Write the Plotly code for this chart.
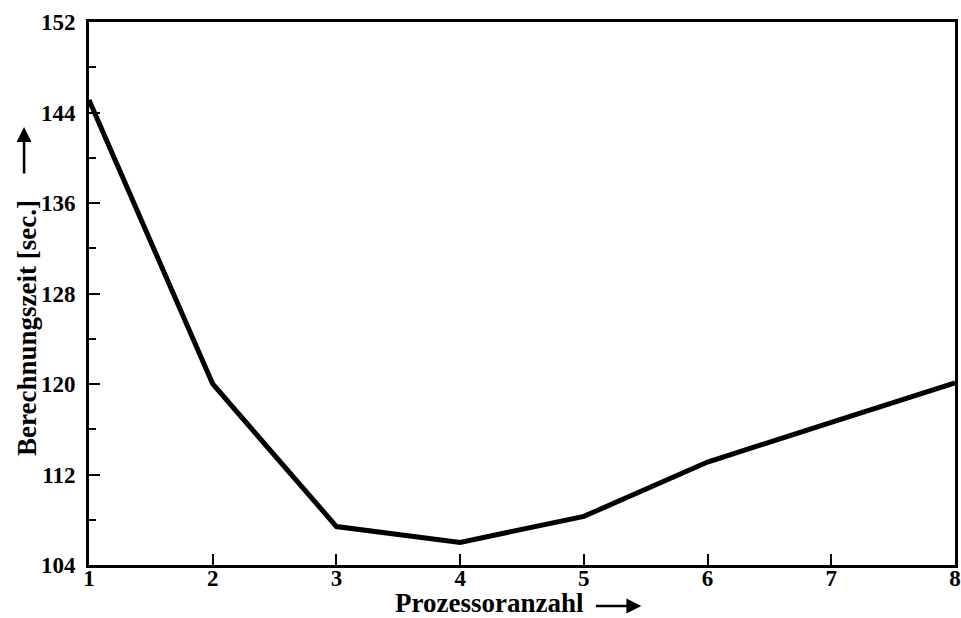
import plotly.graph_objects as go

processors = [1, 2, 3, 4, 5, 6, 7, 8]
times = [145.1, 120.0, 107.4, 106.0, 108.3, 113.1, 116.6, 120.1]
y_ticks = [104, 112, 120, 128, 136, 144, 152]
x_ticks = [1, 2, 3, 4, 5, 6, 7, 8]

FONT = "Liberation Serif"

fig = go.Figure()
fig.add_trace(go.Scatter(x=processors, y=times, mode="lines",
                         line=dict(color="black", width=5), cliponaxis=False,
                         showlegend=False))

fig.update_layout(
    width=961, height=618,
    margin=dict(l=89, r=6, t=22, b=53),
    paper_bgcolor="white", plot_bgcolor="white",
    font=dict(family=FONT, size=23, color="black"),
    xaxis=dict(range=[1, 8], tickvals=x_ticks, ticktext=[f"<b>{v}</b>" for v in x_ticks],
               ticks="inside", ticklen=11, tickwidth=2, tickcolor="black",
               showline=True, linecolor="black", linewidth=3, mirror=True,
               showgrid=False, zeroline=False, ticklabelstandoff=-10, automargin=False),
    yaxis=dict(range=[104, 152], tickvals=y_ticks, ticktext=[f"<b>{v}</b>" for v in y_ticks],
               ticks="inside", ticklen=11, tickwidth=2, tickcolor="black",
               minor=dict(dtick=4, tick0=104, ticks="inside", ticklen=7, tickwidth=2, tickcolor="black", showgrid=False),
               showline=True, linecolor="black", linewidth=3, mirror=True,
               showgrid=False, zeroline=False, ticklabelstandoff=6, automargin=False),
)

# axis titles
fig.add_annotation(text="<b>Prozessoranzahl</b>", xref="paper", yref="paper",
                   x=(490 - 89) / 867, y=(565 - 603) / 543, yanchor="middle", xanchor="center",
                   showarrow=False, font=dict(size=27, family=FONT))
fig.add_annotation(text="<b>Berechnungszeit [sec.]</b>", xref="paper", yref="paper",
                   x=(27 - 89) / 867, y=(565 - 328) / 543, textangle=-90,
                   xanchor="center", yanchor="middle",
                   showarrow=False, font=dict(size=27, family=FONT))
# arrows next to titles
fig.add_annotation(xref="paper", yref="paper", x=(642 - 89) / 867, y=(565 - 606) / 543,
                   ax=-47, ay=0, axref="pixel", ayref="pixel",
                   text="", showarrow=True, arrowhead=2, arrowsize=1.2, arrowwidth=2.5, arrowcolor="black")
fig.add_annotation(xref="paper", yref="paper", x=(24 - 89) / 867, y=(565 - 127) / 543,
                   ax=0, ay=48, axref="pixel", ayref="pixel",
                   text="", showarrow=True, arrowhead=2, arrowsize=1.2, arrowwidth=2.5, arrowcolor="black")

fig.write_html("out.html")
